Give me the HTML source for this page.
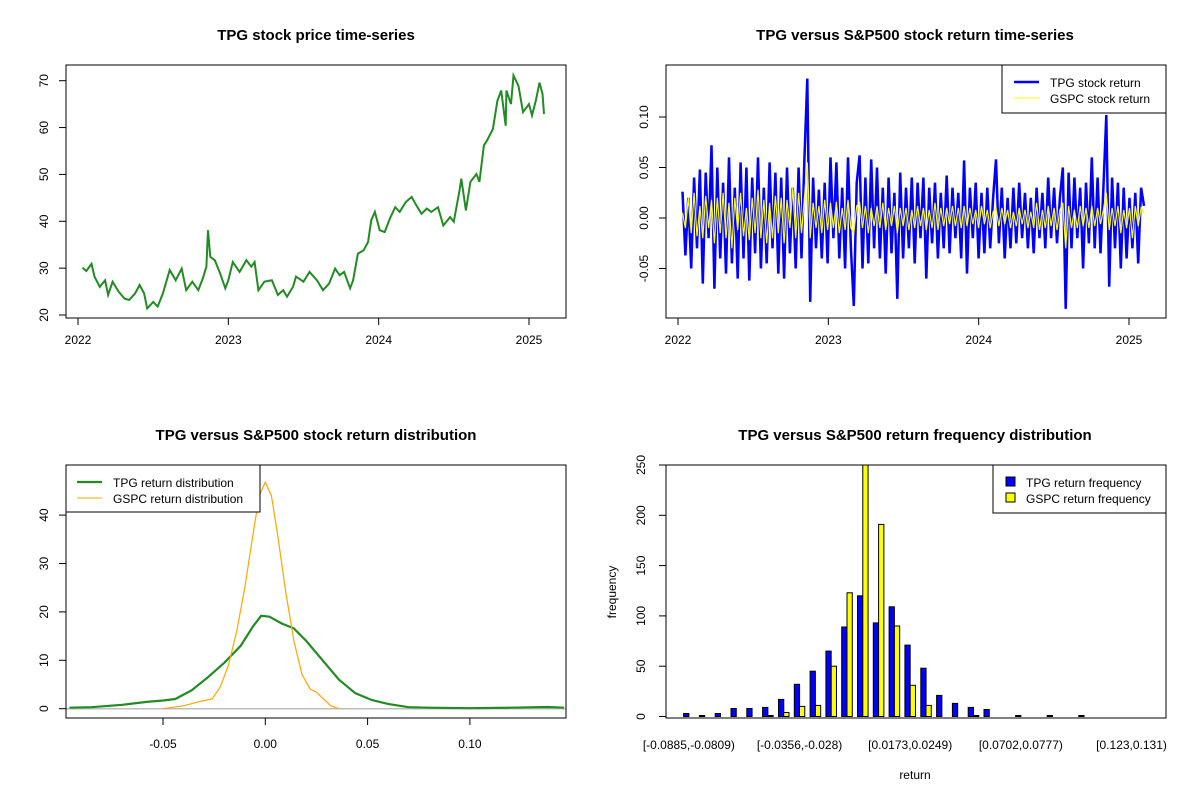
<!DOCTYPE html>
<html><head><meta charset="utf-8"><style>
html,body{margin:0;padding:0;background:#fff;}
svg{display:block;font-family:"Liberation Sans",Arial,sans-serif;}
</style></head><body>
<svg id="chart" width="1200" height="800" viewBox="0 0 1200 800" xmlns="http://www.w3.org/2000/svg"></svg>
<script>
// ---- Panel 1: TPG price (decimal year, price) ----
const priceT=[2022.03,2022.055,2022.09,2022.11,2022.145,2022.18,2022.2,2022.23,2022.27,2022.31,2022.34,2022.38,2022.41,2022.44,2022.46,2022.5,2022.53,2022.565,2022.61,2022.65,2022.69,2022.72,2022.76,2022.8,2022.83,2022.854,2022.865,2022.88,2022.91,2022.945,2022.98,2023.0,2023.03,2023.075,2023.12,2023.153,2023.175,2023.2,2023.24,2023.29,2023.33,2023.365,2023.39,2023.43,2023.45,2023.5,2023.54,2023.59,2023.63,2023.67,2023.71,2023.74,2023.77,2023.81,2023.83,2023.862,2023.9,2023.93,2023.95,2023.975,2024.007,2024.04,2024.075,2024.11,2024.14,2024.18,2024.22,2024.25,2024.285,2024.32,2024.35,2024.395,2024.43,2024.475,2024.5,2024.54,2024.55,2024.58,2024.61,2024.65,2024.67,2024.7,2024.72,2024.76,2024.79,2024.815,2024.845,2024.85,2024.88,2024.897,2024.93,2024.96,2025.0,2025.02,2025.045,2025.07,2025.09,2025.1];
const priceV=[30.1,29.4,30.9,28.2,26.0,27.4,24.3,27.1,25.0,23.5,23.2,24.6,26.4,24.6,21.4,22.8,21.8,24.6,29.6,27.4,29.9,25.3,27.1,25.3,27.8,30.3,38.1,32.4,31.7,28.9,25.7,27.4,31.3,29.2,31.7,30.3,31.3,25.3,27.1,27.4,24.3,25.3,23.9,26.0,28.2,27.1,29.2,27.4,25.3,26.7,29.9,28.5,29.2,25.7,27.4,33.1,33.8,35.6,40.2,42.0,38.1,37.7,40.6,43.0,42.0,44.1,45.2,43.4,41.6,42.7,42.0,43.0,39.1,40.9,39.9,46.9,49.1,42.3,48.4,50.1,48.4,56.2,57.2,59.7,65.7,67.9,60.4,67.9,65.0,71.1,68.9,63.3,65.0,62.6,65.7,69.6,67.2,62.9,58.7].slice(0,98);
// ---- Panel 2: returns ----
const tpgRet=[0.026,-0.037,0.02,-0.05,0.04,-0.03,0.048,-0.065,0.045,-0.02,0.072,-0.07,0.05,-0.04,0.035,-0.055,0.06,-0.045,0.03,-0.06,0.055,-0.04,0.05,-0.062,0.04,-0.035,0.06,-0.05,0.03,-0.045,0.055,-0.03,0.045,-0.055,0.04,-0.06,0.05,-0.035,0.03,-0.05,0.05,-0.04,0.058,0.138,-0.083,0.04,-0.03,0.028,-0.04,0.035,-0.045,0.06,-0.02,0.055,-0.04,0.03,-0.05,0.06,-0.03,-0.087,0.035,0.062,-0.05,0.04,-0.045,0.058,-0.03,0.05,-0.04,0.03,-0.055,0.04,-0.035,0.025,-0.08,0.045,-0.04,0.03,-0.03,0.04,-0.045,0.035,-0.02,0.04,-0.06,0.03,-0.025,0.035,-0.04,0.025,-0.03,0.042,-0.035,0.03,-0.02,0.025,-0.04,0.057,-0.055,0.03,-0.02,0.035,-0.04,0.025,-0.035,0.03,-0.03,0.02,0.058,-0.025,0.03,-0.04,0.02,-0.03,0.03,-0.025,0.035,-0.02,0.025,-0.03,0.02,-0.035,0.03,-0.02,0.025,-0.03,0.04,-0.02,0.03,-0.025,0.02,0.05,-0.09,0.045,-0.03,0.04,-0.02,0.03,-0.05,0.035,-0.025,0.06,-0.03,0.04,-0.035,0.03,0.102,-0.068,0.04,-0.03,0.035,-0.05,0.03,-0.04,0.02,-0.03,0.025,-0.045,0.03,0.012];
const gspcRet=[0.005,-0.01,0.02,-0.015,0.025,-0.018,0.012,-0.02,0.022,-0.01,0.018,-0.025,0.02,-0.015,0.025,-0.02,0.015,-0.03,0.02,-0.012,0.025,-0.018,0.01,-0.022,0.02,-0.015,0.028,-0.02,0.018,-0.025,0.015,-0.02,0.022,-0.015,0.02,-0.025,0.018,-0.01,0.03,-0.02,0.025,-0.015,0.02,0.055,-0.02,0.015,-0.01,0.012,-0.015,0.018,-0.012,0.015,-0.01,0.016,-0.015,0.01,-0.012,0.018,-0.01,-0.015,0.012,0.015,-0.01,0.012,-0.015,0.01,-0.008,0.012,-0.01,0.015,-0.012,0.01,-0.008,0.012,-0.015,0.01,-0.008,0.01,-0.012,0.008,-0.01,0.012,-0.008,0.01,-0.012,0.008,-0.01,0.015,-0.012,0.01,-0.008,0.01,-0.006,0.012,-0.008,0.01,-0.01,0.012,-0.008,0.01,-0.006,0.008,-0.01,0.012,-0.006,0.008,-0.01,0.006,0.01,-0.008,0.01,-0.006,0.008,-0.01,0.006,-0.008,0.01,-0.006,0.008,-0.01,0.006,-0.01,0.015,-0.012,0.008,-0.01,0.012,-0.008,0.01,-0.012,0.008,0.015,-0.03,0.012,-0.01,0.008,-0.01,0.012,-0.008,0.01,-0.01,0.012,-0.008,0.01,-0.006,0.008,0.025,-0.012,0.01,-0.008,0.012,-0.015,0.008,-0.01,0.01,-0.02,0.012,-0.008,0.01,0.005];
const retStart=2022.03, retEnd=2025.10;
// ---- Panel 3: densities ----
const tpgDx=[-0.0957,-0.085,-0.07,-0.058,-0.05,-0.044,-0.036,-0.028,-0.02,-0.012,-0.006,-0.002,0.002,0.008,0.014,0.02,0.028,0.036,0.044,0.052,0.06,0.07,0.08,0.1,0.12,0.138,0.146];
const tpgDy=[0.2,0.3,0.8,1.4,1.7,2.0,3.8,6.5,9.5,13,17,19.2,19,17.6,16.6,14,10,6,3.2,1.8,1.0,0.3,0.2,0.1,0.2,0.35,0.2];
const gspcDx=[-0.05,-0.04,-0.032,-0.026,-0.022,-0.018,-0.014,-0.01,-0.006,-0.003,0,0.003,0.006,0.01,0.014,0.018,0.022,0.025,0.028,0.032,0.036];
const gspcDy=[0,0.6,1.5,2.0,4.5,9,16,25,36,44,46.8,44,36,24,14,7,4,3.4,2.2,0.6,0];
// ---- Panel 4: histogram ----
const binLabels=["[-0.0885,-0.0809)","[-0.0356,-0.028)","[0.0173,0.0249)","[0.0702,0.0777)","[0.123,0.131)"];
const tpgFreq=[3,1,3,8,8,9,17,32,45,65,89,120,93,109,71,48,21,13,9,7,0,1,0,1,0,1,0,0,0,0];
const gspcFreq=[0,0,0,0,0,1,4,10,11,50,123,270,191,90,31,11,0,0,1,0,0,0,0,0,0,0,0,0,0,0];

const svg=document.getElementById('chart');
const NS='http://www.w3.org/2000/svg';
function el(tag,attrs,parent){const e=document.createElementNS(NS,tag);for(const k in attrs)e.setAttribute(k,attrs[k]);(parent||svg).appendChild(e);return e;}
function txt(s,x,y,size,anchor,parent,bold,rot){const t=el('text',{x:x,y:y,'font-size':size,'text-anchor':anchor||'middle',fill:'#000'},parent);if(bold)t.setAttribute('font-weight','bold');if(rot)t.setAttribute('transform','rotate(-90 '+x+' '+y+')');t.textContent=s;return t;}
function lin(a0,a1,p0,p1){return v=>p0+(v-a0)*(p1-p0)/(a1-a0);}

// ===== Panel 1 =====
{
const g=el('g',{});


const X=lin(2022,2025,78,529), Y=lin(20,70,315,80.7);
const t=txt('TPG stock price time-series',316,40,15,'middle',g,true);

el('rect',{x:66,y:65,width:500,height:253,fill:'none',stroke:'#000'},g);
[2022,2023,2024,2025].forEach(v=>{const x=X(v);el('line',{x1:x,y1:318,x2:x,y2:325,stroke:'#000'},g);const l=txt(String(v),x,344,12,'middle',g);});
[20,30,40,50,60,70].forEach(v=>{const y=Y(v);el('line',{x1:59,y1:y,x2:66,y2:y,stroke:'#000'},g);const l=txt(String(v),48,y,12,'middle',g,false,true);});
const pts=priceV.map((v,i)=>X(priceT[i]).toFixed(1)+','+Y(v).toFixed(1)).join(' ');
const p=el('polyline',{points:pts,fill:'none',stroke:'#228B22','stroke-width':2},g);

}
// ===== Panel 2 =====
{
const g=el('g',{});


const X=lin(2022,2025,678,1129), Y=lin(0,0.05,218,167.5);
const t=txt('TPG versus S&P500 stock return time-series',915,40,15,'middle',g,true);

[2022,2023,2024,2025].forEach(v=>{const x=X(v);el('line',{x1:x,y1:318,x2:x,y2:325,stroke:'#000'},g);const l=txt(String(v),x,344,12,'middle',g);});
[-0.05,0,0.05,0.1].forEach(v=>{const y=Y(v);el('line',{x1:659,y1:y,x2:666,y2:y,stroke:'#000'},g);const l=txt(v.toFixed(2),648,y,12,'middle',g,false,true);});
const n=tpgRet.length;const tx=i=>X(retStart+i*(retEnd-retStart)/(n-1));
const a=el('polyline',{points:tpgRet.map((v,i)=>tx(i).toFixed(1)+','+Y(v).toFixed(1)).join(' '),fill:'none',stroke:'#0000FF','stroke-width':2.5},g);

const m=gspcRet.length;const tx2=i=>X(retStart+i*(retEnd-retStart)/(m-1));
const b=el('polyline',{points:gspcRet.map((v,i)=>tx2(i).toFixed(1)+','+Y(v).toFixed(1)).join(' '),fill:'none',stroke:'#FFFF00','stroke-width':1.2},g);

el('rect',{x:666,y:65,width:500,height:253,fill:'none',stroke:'#000'},g);
const lg=el('g',{},g);
el('rect',{x:1002,y:65,width:164,height:48,fill:'#fff',stroke:'#000'},lg);
el('line',{x1:1014,y1:82,x2:1039,y2:82,stroke:'#0000FF','stroke-width':2.5},lg);
el('line',{x1:1014,y1:98,x2:1039,y2:98,stroke:'#FFFF00','stroke-width':1},lg);
txt('TPG stock return',1050,87,12,'start',lg);
txt('GSPC stock return',1050,103,12,'start',lg);
}
// ===== Panel 3 =====
{
const g=el('g',{});


const X=lin(0,0.05,265.3,367.6), Y=lin(0,10,708.7,660.3);
const t=txt('TPG versus S&P500 stock return distribution',316,440,15,'middle',g,true);

[-0.05,0,0.05,0.1].forEach(v=>{const x=X(v);el('line',{x1:x,y1:718,x2:x,y2:725,stroke:'#000'},g);const l=txt(v.toFixed(2),x,748,12,'middle',g);});
[0,10,20,30,40].forEach(v=>{const y=Y(v);el('line',{x1:59,y1:y,x2:66,y2:y,stroke:'#000'},g);const l=txt(String(v),48,y,12,'middle',g,false,true);});
const z=el('line',{x1:66,y1:Y(0),x2:566,y2:Y(0),stroke:'#BEBEBE','stroke-width':1.5},g);

const a=el('polyline',{points:tpgDx.map((v,i)=>X(v).toFixed(1)+','+Y(tpgDy[i]).toFixed(1)).join(' '),fill:'none',stroke:'#228B22','stroke-width':2.2},g);

const b=el('polyline',{points:gspcDx.map((v,i)=>X(v).toFixed(1)+','+Y(gspcDy[i]).toFixed(1)).join(' '),fill:'none',stroke:'#FFA500','stroke-width':1.2},g);

el('rect',{x:66,y:465,width:500,height:253,fill:'none',stroke:'#000'},g);
const lg=el('g',{},g);
el('rect',{x:66,y:465,width:194,height:47,fill:'#fff',stroke:'#000'},lg);
el('line',{x1:77,y1:482,x2:102,y2:482,stroke:'#228B22','stroke-width':2.2},lg);
el('line',{x1:77,y1:498,x2:102,y2:498,stroke:'#FFA500','stroke-width':1},lg);
txt('TPG return distribution',113,487,12,'start',lg);
txt('GSPC return distribution',113,503,12,'start',lg);
}
// ===== Panel 4 =====
{
const g=el('g',{});


const Y=lin(0,250,716.5,465);
const t=txt('TPG versus S&P500 return frequency distribution',915,440,15,'middle',g,true);

const cp=el('clipPath',{id:'hclip'},g);el('rect',{x:666,y:465,width:500,height:253},cp);
const bars=el('g',{'clip-path':'url(#hclip)'},g);
const w=5.27, x0=683.6-w;
tpgFreq.forEach((v,i)=>{const x=x0+w+i*3*w;
 const r=el('rect',{x:x.toFixed(1),y:Y(v).toFixed(1),width:w.toFixed(2),height:(Y(0)-Y(v)).toFixed(1),fill:'#0000FF',stroke:'#000','stroke-width':1},bars);
 
 const gv=gspcFreq[i];
 const r2=el('rect',{x:(x+w).toFixed(1),y:Y(gv).toFixed(1),width:w.toFixed(2),height:(Y(0)-Y(gv)).toFixed(1),fill:'#FFFF00',stroke:'#000','stroke-width':1},bars);
 
});
binLabels.forEach((s,k)=>{const i=k*7;const cx=x0+w+i*3*w+w;const l=txt(s,cx,749,12,'middle',g);});
[0,50,100,150,200,250].forEach(v=>{const y=Y(v);el('line',{x1:659,y1:y,x2:666,y2:y,stroke:'#000'},g);const l=txt(String(v),645,y,12,'middle',g,false,true);});
el('rect',{x:666,y:465,width:500,height:253,fill:'none',stroke:'#000'},g);
const xt=txt('return',915,779,12,'middle',g);
const yt=txt('frequency',616,592,12,'middle',g,false,true);
const lg=el('g',{},g);
el('rect',{x:993,y:465,width:173,height:48,fill:'#fff',stroke:'#000'},lg);
el('rect',{x:1006,y:477,width:9,height:9,fill:'#0000FF',stroke:'#000'},lg);
el('rect',{x:1006,y:493,width:9,height:9,fill:'#FFFF00',stroke:'#000'},lg);
txt('TPG return frequency',1026,487,12,'start',lg);
txt('GSPC return frequency',1026,503,12,'start',lg);
}
</script>
</body></html>
